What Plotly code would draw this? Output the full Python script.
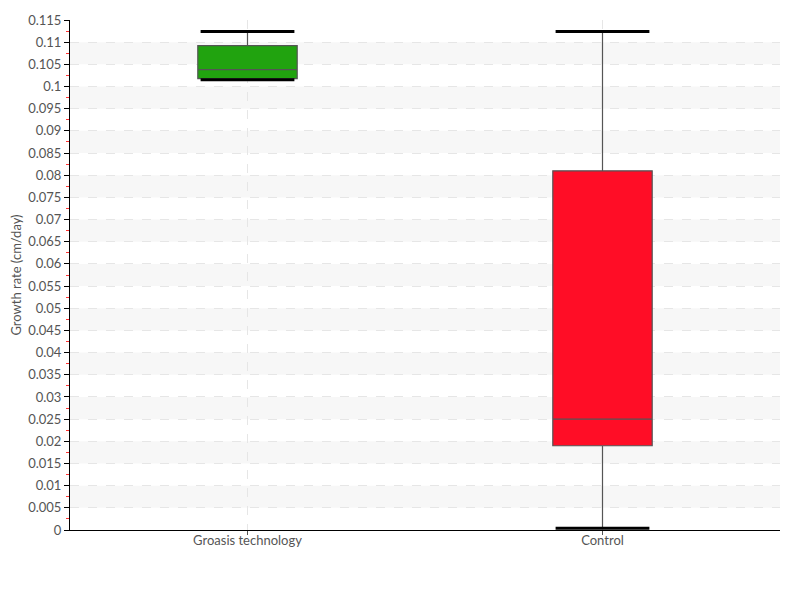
import numpy as np
import plotly.graph_objects as go

categories = ["Groasis technology", "Control"]
lower_fence = [0.1015, 0.0004]
q1 = [0.1018, 0.0190]
median = [0.1038, 0.0250]
q3 = [0.1092, 0.0810]
upper_fence = [0.1124, 0.1124]
colors = ["#21a30f", "#ff0d26"]

y_max = 0.115
y_step = 0.005

fig = go.Figure()

for i, cat in enumerate(categories):
    fig.add_trace(go.Box(
        x=[cat], q1=[q1[i]], median=[median[i]], q3=[q3[i]],
        lowerfence=[lower_fence[i]], upperfence=[upper_fence[i]],
        fillcolor=colors[i], line=dict(color="#555555", width=1.2),
        whiskerwidth=0, width=0.28, showlegend=False, hoverinfo="skip",
    ))
    # thick whisker caps
    fig.add_trace(go.Scatter(
        x=[cat, cat], y=[lower_fence[i], upper_fence[i]], mode="markers",
        marker=dict(symbol="line-ew", size=67, line=dict(color="black", width=3)),
        showlegend=False, hoverinfo="skip",
    ))

# alternating background bands
ticks = np.arange(0, y_max + y_step / 2, y_step)
for k in range(len(ticks) - 1):
    if k % 2 == 1:
        fig.add_shape(type="rect", xref="paper", yref="y", x0=0, x1=1,
                      y0=ticks[k], y1=ticks[k + 1], fillcolor="#f7f7f7",
                      line_width=0, layer="below")

font = "Lato, sans-serif"
fig.update_layout(
    width=800, height=600,
    margin=dict(l=62, r=28, t=12, b=78),
    plot_bgcolor="white", paper_bgcolor="white",
    font=dict(family=font, size=13, color="#555555"),
    xaxis=dict(
        type="category", range=[-0.5, 1.5], automargin=False,
        showline=True, linecolor="black", linewidth=1,
        showgrid=True, gridcolor="#e6e6e6", griddash="dash",
        ticks="outside", ticklen=4, tickcolor="#555555",
        ticklabelstandoff=-6,
        zeroline=False,
    ),
    yaxis=dict(
        title=dict(text="Growth rate (cm/day)", standoff=7, font=dict(size=13)),
        range=[0, y_max], dtick=y_step, tick0=0, automargin=False,
        showline=True, linecolor="black", linewidth=1,
        showgrid=True, gridcolor="#e6e6e6", griddash="dash",
        ticks="outside", ticklen=5, tickcolor="black",
        zeroline=False,
        minor=dict(dtick=y_step / 2, ticks="outside", ticklen=3,
                   tickcolor="#ff3333", showgrid=False),
    ),
)

fig.write_html("out.html")
